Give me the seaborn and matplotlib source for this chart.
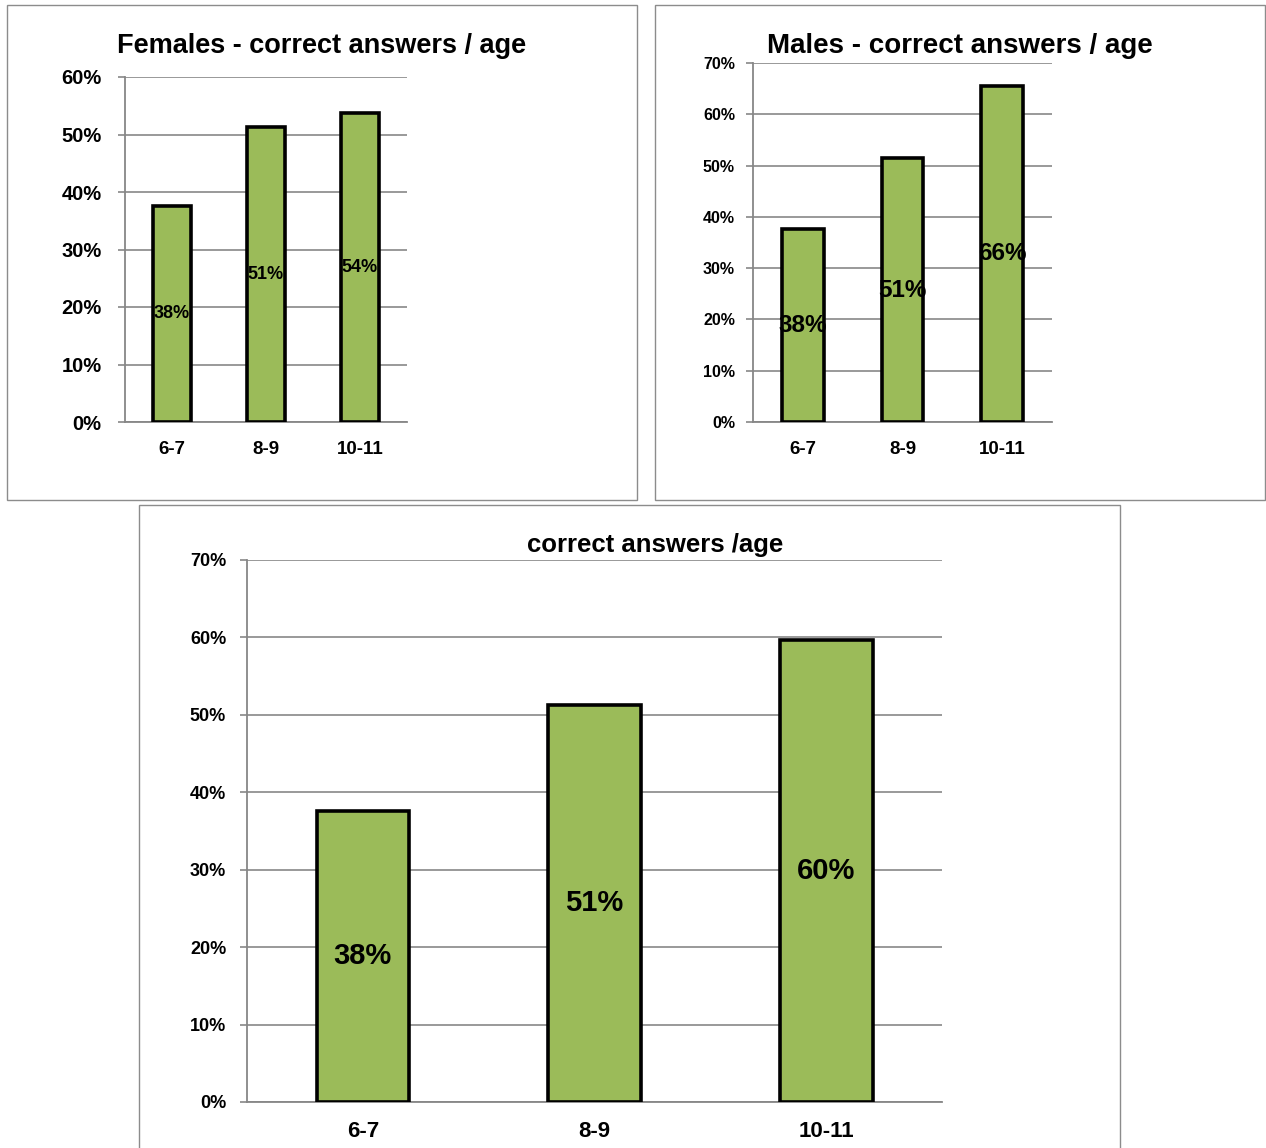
import matplotlib
matplotlib.use("Agg")
import matplotlib.pyplot as plt
import matplotlib.ticker as ticker
from matplotlib.patches import Rectangle
import seaborn as sns

# =============================================================================
# DATA
# =============================================================================
AGES          = ["6-7", "8-9", "10-11"]
FEMALES_PCT   = [37.6, 51.3, 53.7]
MALES_PCT     = [37.6, 51.4, 65.6]
TOTAL_PCT     = [37.6, 51.3, 59.7]

TITLE_F = "Females - correct answers / age"
TITLE_M = "Males - correct answers / age"
TITLE_T = "correct answers /age"

GREEN = "#9BBB59"
GRID  = "#878787"

sns.set_theme(style="white")
plt.rcParams["font.family"] = ["Liberation Sans", "DejaVu Sans"]
plt.rcParams["font.weight"] = "bold"
plt.rcParams["text.color"] = "black"
plt.rcParams["xtick.color"] = "black"
plt.rcParams["ytick.color"] = "black"

W, H = 1266, 1148
fig = plt.figure(figsize=(W / 100, H / 100), dpi=100)


def px_axes(x0, y0, x1, y1):
    # pixel box (top-left origin) -> figure fraction axes
    return fig.add_axes([x0 / W, (H - y1) / H, (x1 - x0) / W, (y1 - y0) / H])


def frame(x0, y0, x1, y1):
    fig.patches.append(Rectangle((x0 / W, (H - y1) / H), (x1 - x0) / W, (y1 - y0) / H,
                                 transform=fig.transFigure, fill=False,
                                 edgecolor="#8c8c8c", linewidth=1.0, zorder=0))


def draw(ax, values, ymax, bar_w, ytick_fs, xtick_fs, lab_fs, xpad, ypad):
    sns.barplot(x=AGES, y=values, color=GREEN, edgecolor="black",
                linewidth=2.6, width=bar_w, saturation=1, ax=ax, zorder=3)
    ax.bar_label(ax.containers[0], labels=[f"{v:.0f}%" for v in values],
                 label_type="center", fontsize=lab_fs, fontweight="bold", color="black")
    ax.set_ylim(0, ymax)
    ax.set_xlim(-0.5, len(AGES) - 0.5)
    ax.yaxis.set_major_locator(ticker.MultipleLocator(10))
    ax.yaxis.set_major_formatter(ticker.PercentFormatter(decimals=0))
    ax.grid(axis="y", color=GRID, linewidth=1.2, zorder=0)
    ax.set_axisbelow(True)
    for s in ["top", "right"]:
        ax.spines[s].set_visible(False)
    for s in ["left", "bottom"]:
        ax.spines[s].set_color(GRID)
        ax.spines[s].set_linewidth(1.3)
    ax.xaxis.set_minor_locator(ticker.FixedLocator([-0.5, 0.5, 1.5, 2.5]))
    ax.tick_params(axis="x", which="major", length=0, pad=xpad, labelsize=xtick_fs)
    ax.tick_params(axis="x", which="minor", length=5, width=1.2, color=GRID, direction="out")
    ax.tick_params(axis="y", length=5, width=1.2, color=GRID, direction="out",
                   left=True, pad=ypad, labelsize=ytick_fs, labelcolor="black")
    for t in ax.get_xticklabels() + ax.get_yticklabels():
        t.set_fontweight("bold")
    ax.set_xlabel("")
    ax.set_ylabel("")


# panel frames
frame(7, 5, 637, 500)
frame(655, 5, 1265, 500)
frame(139, 505, 1120, 1160)

ax1 = px_axes(125, 77, 407, 422)
draw(ax1, FEMALES_PCT, 60, 0.41, 14.5, 13.5, 13, 14, 12)
fig.text(322 / W, (H - 46) / H, TITLE_F, ha="center", va="center",
         fontsize=19.5, fontweight="bold")

ax2 = px_axes(753, 63, 1052, 422)
draw(ax2, MALES_PCT, 70, 0.42, 11.5, 13.5, 17.5, 14, 8)
fig.text(960 / W, (H - 46) / H, TITLE_M, ha="center", va="center",
         fontsize=20, fontweight="bold")

ax3 = px_axes(247, 560, 942, 1102)
draw(ax3, TOTAL_PCT, 70, 0.40, 13, 16, 21, 14, 10)
fig.text(655 / W, (H - 545) / H, TITLE_T, ha="center", va="center",
         fontsize=18.5, fontweight="bold")

fig.savefig("out.png", dpi=100)
